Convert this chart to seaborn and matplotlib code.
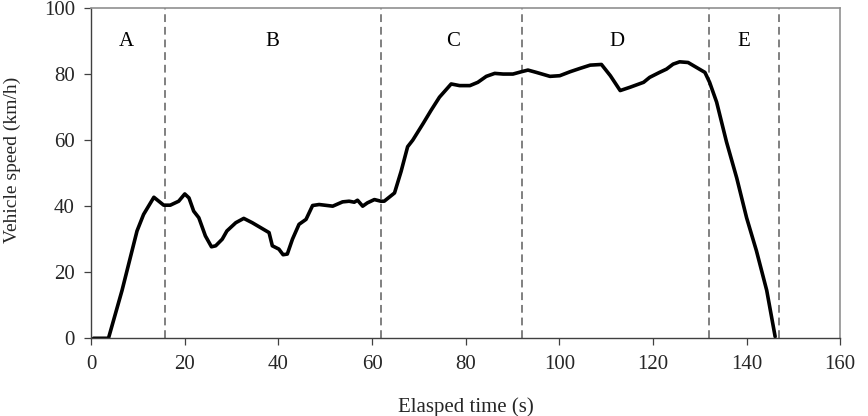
import matplotlib
matplotlib.use("Agg")
import matplotlib.pyplot as plt
import seaborn as sns
import pandas as pd

time_s = [0.5, 3.7, 6.6, 9.8, 11.2, 13.4, 15.5, 16.9, 18.7, 20.0, 20.9, 21.9, 23.0, 24.4, 25.7,
          26.6, 28.0, 29.0, 30.9, 32.6, 34.4, 36.2, 38.0, 38.7, 40.1, 41.0, 41.9, 43.0, 44.4,
          45.9, 47.3, 48.7, 51.6, 53.7, 55.1, 56.2, 56.9, 58.0, 59.0, 60.5, 61.9, 62.6, 64.8,
          66.2, 67.6, 68.7, 70.9, 72.6, 74.4, 76.9, 78.7, 80.9, 82.6, 84.4, 86.2, 88.0, 90.1,
          91.9, 93.3, 95.1, 98.0, 100.1, 102.3, 104.4, 106.6, 109.0, 110.9, 113.0, 115.1,
          118.0, 119.3, 121.4, 122.9, 124.3, 125.7, 127.5, 129.3, 131.1, 132.1, 133.6, 135.7,
          137.9, 140.0, 142.1, 144.3, 146.1]
speed_kmh = [0, 0, 14.5, 32.5, 37.5, 42.7, 40.3, 40.3, 41.5, 43.7, 42.5, 38.5, 36.5, 31.0, 27.7,
             28.0, 30.0, 32.5, 35.0, 36.3, 35.0, 33.5, 32.0, 28.0, 27.0, 25.3, 25.5, 30.0, 34.5,
             36.0, 40.2, 40.5, 40.0, 41.3, 41.5, 41.2, 41.8, 40.0, 41.0, 42.0, 41.5, 41.5, 44.0,
             50.5, 58.0, 60.0, 65.0, 69.0, 73.0, 77.0, 76.5, 76.5, 77.5, 79.3, 80.2, 80.0, 80.0,
             80.7, 81.2, 80.5, 79.3, 79.5, 80.7, 81.7, 82.7, 82.9, 79.5, 75.0, 76.0,
             77.5, 79.0, 80.5, 81.5, 83.0, 83.7, 83.5, 82.0, 80.5, 77.5, 71.5, 59.5,
             48.5, 36.5, 26.5, 14.5, 0.5]

phase_bounds = [15.8, 61.9, 92.0, 131.9, 147.0]
phase_labels = ["A", "B", "C", "D", "E"]
phase_label_x = [7.6, 38.7, 77.3, 112.3, 139.3]

df = pd.DataFrame({"t": time_s, "v": speed_kmh})

sns.set_theme(style="white")
plt.rcParams["font.family"] = ["Liberation Serif", "DejaVu Serif"]

fig = plt.figure(figsize=(8.68, 4.16), dpi=100)
ax = fig.add_axes([0.1050, 0.1868, 0.8630, 0.7940])

sns.lineplot(data=df, x="t", y="v", ax=ax, color="black", linewidth=2.6)

for xb in phase_bounds:
    ax.axvline(xb, color="#808080", linestyle=(0, (4, 2.5)), linewidth=1.4, zorder=1)

for lab, lx in zip(phase_labels, phase_label_x):
    ax.text(lx, 90.0, lab, ha="center", va="center", fontsize=15, color="black")

ax.set_xlim(0, 160)
ax.set_ylim(0, 100)
ax.set_xticks(range(0, 161, 20))
ax.set_yticks(range(0, 101, 20))
ax.set_xlabel("Elasped time (s)", fontsize=15)
ax.set_ylabel("Vehicle speed (km/h)", fontsize=14)
ax.xaxis.set_label_coords(0.5, -0.178)
ax.yaxis.set_label_coords(-0.093, 0.54)
ax.tick_params(axis="both", labelsize=15, direction="out", length=5.2, width=0.9,
               color="#404040", bottom=True, left=True)
ax.tick_params(axis="x", pad=7)
ax.tick_params(axis="y", pad=6.5)

for side in ["left", "bottom"]:
    ax.spines[side].set_color("#404040")
    ax.spines[side].set_linewidth(1.0)
for side in ["top", "right"]:
    ax.spines[side].set_color("#909090")
    ax.spines[side].set_linewidth(1.2)

fig.savefig("out.png", dpi=100)
